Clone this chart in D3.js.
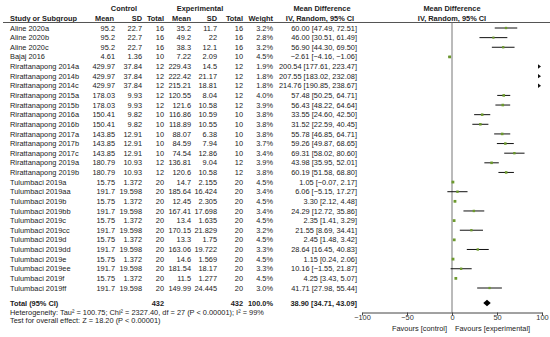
<!DOCTYPE html>
<html><head><meta charset="utf-8">
<script src="https://cdn.jsdelivr.net/npm/d3@7"></script>
<style>body{margin:0;background:#fff}svg{display:block}text{font-family:"Liberation Sans",Arial,sans-serif;font-size:7.4px;fill:#222}</style>
</head><body><svg id="c" width="550" height="337"></svg>
<script>
const studies=["Aline 2020a","Aline 2020b","Aline 2020c","Bajaj 2016","Rirattanapong 2014a","Rirattanapong 2014b","Rirattanapong 2014c","Rirattanapong 2015a","Rirattanapong 2015b","Rirattanapong 2016a","Rirattanapong 2016b","Rirattanapong 2017a","Rirattanapong 2017b","Rirattanapong 2017c","Rirattanapong 2019a","Rirattanapong 2019b","Tulumbaci 2019a","Tulumbaci 2019aa","Tulumbaci 2019b","Tulumbaci 2019bb","Tulumbaci 2019c","Tulumbaci 2019cc","Tulumbaci 2019d","Tulumbaci 2019dd","Tulumbaci 2019e","Tulumbaci 2019ee","Tulumbaci 2019f","Tulumbaci 2019ff"];
const ctrlMean=["95.2","95.2","95.2","4.61","429.97","429.97","429.97","178.03","178.03","150.41","150.41","143.85","143.85","143.85","180.79","180.79","15.75","191.7","15.75","191.7","15.75","191.7","15.75","191.7","15.75","191.7","15.75","191.7"];
const ctrlSD=["22.7","22.7","22.7","1.36","37.84","37.84","37.84","9.93","9.93","9.82","9.82","12.91","12.91","12.91","10.93","10.93","1.372","19.598","1.372","19.598","1.372","19.598","1.372","19.598","1.372","19.598","1.372","19.598"];
const ctrlN=[16,16,16,10,12,12,12,12,12,10,10,10,10,10,12,12,20,20,20,20,20,20,20,20,20,20,20,20];
const expMean=["35.2","49.2","38.3","7.22","229.43","222.42","215.21","120.55","121.6","116.86","118.89","88.07","84.59","74.54","136.81","120.6","14.7","185.64","12.45","167.41","13.4","170.15","13.3","163.06","14.6","181.54","11.5","149.99"];
const expSD=["11.7","22","12.1","2.09","14.5","21.17","18.81","8.04","10.58","10.59","10.55","6.38","7.94","12.86","9.04","10.58","2.155","16.424","2.305","17.698","1.635","21.829","1.75","19.722","1.569","18.17","1.277","24.445"];
const expN=[16,16,16,10,12,12,12,12,12,10,10,10,10,10,12,12,20,20,20,20,20,20,20,20,20,20,20,20];
const weights=[3.2,2.8,3.2,4.5,1.9,1.8,1.8,4.0,3.9,3.8,3.8,3.8,3.7,3.4,3.9,3.8,4.5,3.4,4.5,3.4,4.5,3.2,4.5,3.3,4.5,3.3,4.5,3.0];
const md=[60.00,46.00,56.90,-2.61,200.54,207.55,214.76,57.48,56.43,33.55,31.52,55.78,59.26,69.31,43.98,60.19,1.05,6.06,3.30,24.29,2.35,21.55,2.45,28.64,1.15,10.16,4.25,41.71];
const lo=[47.49,30.51,44.30,-4.16,177.61,183.02,190.85,50.25,48.22,24.60,22.59,46.85,49.87,58.02,35.95,51.58,-0.07,-5.15,2.12,12.72,1.41,8.69,1.48,16.45,0.24,-1.55,3.43,27.98];
const hi=[72.51,61.49,69.50,-1.06,223.47,232.08,238.67,64.71,64.64,42.50,40.45,64.71,68.65,80.60,52.01,68.80,2.17,17.27,4.48,35.86,3.29,34.41,3.42,40.83,2.06,21.87,5.07,55.44];
const totalCtrl=432, totalExp=432, totalWeight="100.0%";
const totalMD=38.90, totalLo=34.71, totalHi=43.09;
const hetText="Heterogeneity: Tau\u00b2 = 100.75; Chi\u00b2 = 2327.40, df = 27 (P < 0.00001); I\u00b2 = 99%";
const testText="Test for overall effect: Z = 18.20 (P < 0.00001)";
const xTicks=[-100,-50,0,50,100];

const svg=d3.select("#c");
const n=studies.length;
const y=d3.scaleLinear().domain([0,n-1]).range([28,288]);
const x=d3.scaleLinear().domain([-100,100]).range([362,542]);
const f2=d3.format(".2f");
const ciStr=i=>`${f2(md[i])} [${f2(lo[i])}, ${f2(hi[i])}]`;
const DY=2.6;

function txt(t,xx,yy,anchor,bold){
  return svg.append("text").attr("x",xx).attr("y",yy+DY).attr("text-anchor",anchor||"start")
    .style("font-weight",bold?"bold":"normal").text(t);
}
// headers
txt("Control",124,8,"middle",true);
txt("Experimental",200,8,"middle",true);
txt("Mean Difference",322,8,"middle",true);
txt("Mean Difference",452,8,"middle",true);
txt("Study or Subgroup",10,18,"start",true);
[["Mean",114],["SD",142],["Total",164],["Mean",191],["SD",217],["Total",243],["Weight",273]].forEach(d=>txt(d[0],d[1],18,"end",true));
txt("IV, Random, 95% CI",320,18,"middle",true);
txt("IV, Random, 95% CI",452,18,"middle",true);
svg.append("line").attr("x1",3).attr("x2",550).attr("y1",22.5).attr("y2",22.5).attr("stroke","#555").attr("stroke-width",1);

// rows
const cols=[[ctrlMean,115],[ctrlSD,142],[ctrlN,164],[expMean,191],[expSD,217],[expN,243]];
studies.forEach((s,i)=>{
  txt(s,10,y(i));
  cols.forEach(c=>txt(String(c[0][i]),c[1],y(i),"end"));
  txt(weights[i].toFixed(1)+"%",273,y(i),"end");
  txt(ciStr(i),357,y(i),"end");
});
// totals
const yt=303;
txt("Total (95% CI)",10,yt,"start",true);
txt(String(totalCtrl),164,yt,"end",true);
txt(String(totalExp),243,yt,"end",true);
txt(totalWeight,273,yt,"end",true);
txt(`${f2(totalMD)} [${f2(totalLo)}, ${f2(totalHi)}]`,357,yt,"end",true);
txt(hetText,10,312);
txt(testText,10,320.5);

// plot
const axisY=312.5;
svg.append("line").attr("x1",x(0)).attr("x2",x(0)).attr("y1",22.5).attr("y2",axisY).attr("stroke","#777").attr("stroke-width",1);
const [dmin,dmax]=x.domain();
studies.forEach((s,i)=>{
  const a=Math.max(lo[i],dmin), b=Math.min(hi[i],dmax);
  if(a<b) svg.append("line").attr("x1",x(a)).attr("x2",x(b)).attr("y1",y(i)).attr("y2",y(i)).attr("stroke","#111").attr("stroke-width",1);
  if(md[i]<=dmax){
    const sz=Math.sqrt(weights[i])*1.3;
    svg.append("rect").attr("x",x(md[i])-sz/2).attr("y",y(i)-sz/2).attr("width",sz).attr("height",sz).attr("fill","#6c9a2c");
  } else {
    const ax=x(dmax)-1;
    svg.append("path").attr("d",`M${ax-3},${y(i)-2.2}L${ax},${y(i)}L${ax-3},${y(i)+2.2}Z`).attr("fill","#111");
  }
});
svg.append("path").attr("d",`M${x(totalLo)},${yt}L${x(totalMD)},${yt-3.3}L${x(totalHi)},${yt}L${x(totalMD)},${yt+3.3}Z`).attr("fill","#000");

const ax=svg.append("g").attr("transform",`translate(0,${axisY})`).call(d3.axisBottom(x).tickValues(xTicks).tickSize(3).tickSizeOuter(0).tickFormat(d3.format("d")));
ax.select(".domain").attr("stroke","#444");
ax.selectAll(".tick line").attr("stroke","#444");
ax.selectAll(".tick text").attr("dy","0.6em").attr("y",3).style("font-size","7.4px").style("fill","#333").style("font-family","Liberation Sans, Arial, sans-serif");
txt("Favours [control]",447,328,"end");
txt("Favours [experimental]",455,328,"start");
</script></body></html>
